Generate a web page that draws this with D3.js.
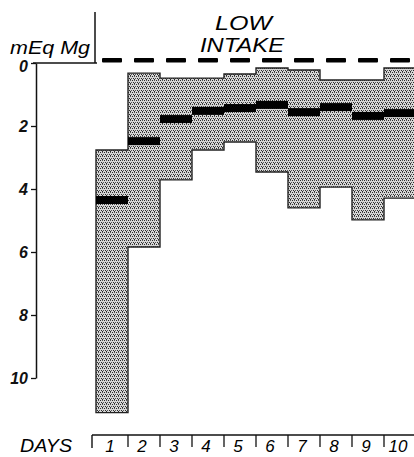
<!DOCTYPE html>
<html>
<head>
<meta charset="utf-8">
<script src="https://cdn.jsdelivr.net/npm/d3@7"></script>
<style>
  body { margin: 0; background: #fff; }
  svg { display: block; font-family: "Liberation Sans", Arial, sans-serif; }
</style>
</head>
<body>
<svg id="chart" width="414" height="457"></svg>
<script>
// serum Mg range per day (mEq)
var days = ["1", "2", "3", "4", "5", "6", "7", "8", "9", "10"];
var minVals = [2.76, 0.32, 0.48, 0.48, 0.35, 0.16, 0.22, 0.54, 0.54, 0.16];
var maxVals = [11.1, 5.84, 3.71, 2.76, 2.51, 3.46, 4.60, 3.94, 4.98, 4.29];
var meanVals = [4.35, 2.48, 1.78, 1.52, 1.43, 1.33, 1.56, 1.40, 1.68, 1.59];
var intakeVals = [0, 0, 0, 0, 0, 0, 0, 0, 0, 0];
var yTicks = [0, 2, 4, 6, 8, 10];

var svg = d3.select("#chart");

var x = d3.scaleBand().domain(days).range([96, 416]).paddingInner(0);
var bw = x.bandwidth();
var y = d3.scaleLinear().domain([0, 10]).range([63, 378]);

// stipple fill
var pat = svg.append("defs").append("pattern")
    .attr("id", "stip").attr("patternUnits", "userSpaceOnUse")
    .attr("width", 4).attr("height", 4);
pat.append("rect").attr("width", 4).attr("height", 4).attr("fill", "#d6d6d6");
[[0, 0], [2, 0], [1, 2], [3, 2], [2, 3]].forEach(function(p, i) {
    pat.append("rect").attr("x", p[0]).attr("y", p[1]).attr("width", 1).attr("height", 1)
        .attr("fill", i % 2 ? "#555" : "#2a2a2a");
});

// step band
var pts = [];
days.forEach(function(d, i) {
    pts.push({x: x(d), lo: minVals[i], hi: maxVals[i]});
    pts.push({x: x(d) + bw, lo: minVals[i], hi: maxVals[i]});
});
var area = d3.area()
    .x(function(p) { return p.x; })
    .y0(function(p) { return y(p.hi); })
    .y1(function(p) { return y(p.lo); });
svg.append("path").datum(pts)
    .attr("d", area)
    .attr("fill", "url(#stip)")
    .attr("stroke", "#222").attr("stroke-width", 1.4);

// mean bars
svg.append("g").selectAll("line").data(days).enter().append("line")
    .attr("x1", function(d) { return x(d); })
    .attr("x2", function(d) { return x(d) + bw; })
    .attr("y1", function(d, i) { return y(meanVals[i]); })
    .attr("y2", function(d, i) { return y(meanVals[i]); })
    .attr("stroke", "#000").attr("stroke-width", 8);

// intake dashes
svg.append("g").selectAll("rect").data(days).enter().append("rect")
    .attr("x", function(d) { return x(d) + bw / 2 - 10; })
    .attr("y", function(d, i) { return y(intakeVals[i]) - 5; })
    .attr("width", 20).attr("height", 4.5)
    .attr("rx", 1)
    .attr("fill", "#000");

// y axis
var yAxis = svg.append("g").attr("transform", "translate(36,0)")
    .call(d3.axisLeft(y).tickValues(yTicks).tickSize(5).tickSizeOuter(0).tickPadding(3));
yAxis.select(".domain").attr("stroke", "#111").attr("stroke-width", 1.5);
yAxis.selectAll(".tick line").attr("stroke", "#111").attr("stroke-width", 1.3);
yAxis.selectAll(".tick text")
    .attr("font-size", 16).attr("font-style", "italic").attr("font-weight", "bold")
    .attr("fill", "#111").attr("font-family", "Liberation Sans, Arial, sans-serif")
    .attr("dy", function(d) { return d === 0 ? "0.55em" : "0.32em"; });

// zero line and separator
svg.append("line").attr("x1", 33).attr("x2", 97).attr("y1", y(0)).attr("y2", y(0))
    .attr("stroke", "#111").attr("stroke-width", 1.5);
svg.append("line").attr("x1", 95).attr("x2", 95).attr("y1", 12).attr("y2", y(0))
    .attr("stroke", "#111").attr("stroke-width", 1.5);

svg.append("text").attr("x", 10).attr("y", 54)
    .attr("font-size", 18).attr("font-style", "italic")
    .attr("textLength", 80).attr("lengthAdjust", "spacingAndGlyphs")
    .text("mEq Mg");
svg.append("text").attr("x", 215).attr("y", 30)
    .attr("font-size", 21).attr("font-style", "italic")
    .attr("textLength", 57).attr("lengthAdjust", "spacingAndGlyphs")
    .text("LOW");
svg.append("text").attr("x", 200).attr("y", 52)
    .attr("font-size", 21).attr("font-style", "italic")
    .attr("textLength", 84).attr("lengthAdjust", "spacingAndGlyphs")
    .text("INTAKE");

// days row
var dayRow = svg.append("g");
dayRow.append("text").attr("x", 20).attr("y", 452)
    .attr("font-size", 19).attr("font-style", "italic")
    .attr("textLength", 52).attr("lengthAdjust", "spacingAndGlyphs")
    .text("DAYS");
dayRow.append("line").attr("x1", 92).attr("x2", 414).attr("y1", 435).attr("y2", 435)
    .attr("stroke", "#111").attr("stroke-width", 1.4);
dayRow.append("line").attr("x1", 92).attr("x2", 92).attr("y1", 435).attr("y2", 448)
    .attr("stroke", "#111").attr("stroke-width", 1.4);
dayRow.selectAll(".sep").data(days.slice(1)).enter().append("line")
    .attr("class", "sep")
    .attr("x1", function(d) { return x(d); }).attr("x2", function(d) { return x(d); })
    .attr("y1", 435).attr("y2", 447)
    .attr("stroke", "#111").attr("stroke-width", 1.3);
dayRow.selectAll(".lab").data(days).enter().append("text")
    .attr("class", "lab")
    .attr("x", function(d) { return x(d) + bw / 2 - 2; })
    .attr("y", 452)
    .attr("text-anchor", "middle")
    .attr("font-size", 17).attr("font-style", "italic")
    .text(function(d) { return d; });
</script>
</body>
</html>
